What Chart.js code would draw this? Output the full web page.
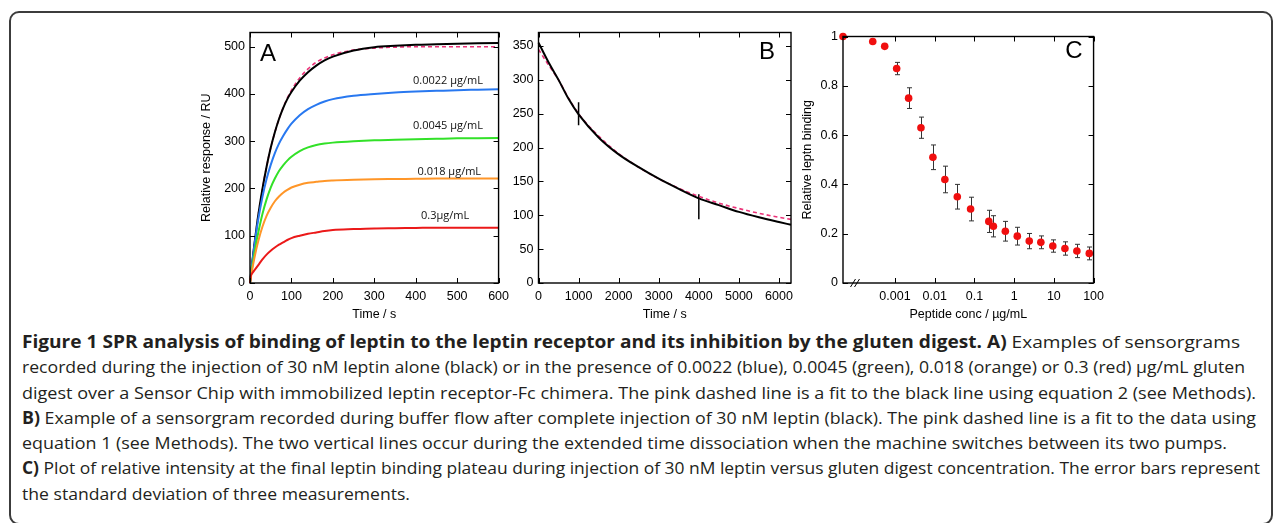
<!DOCTYPE html>
<html>
<head>
<meta charset="utf-8">
<script src="https://cdn.jsdelivr.net/npm/chart.js@4.4.1/dist/chart.umd.min.js"></script>
<style>
  body { margin: 0; background: #fff; width: 1282px; height: 523px; overflow: hidden; position: relative; }
  #frame { position: absolute; left: 9px; top: 11px; width: 1264px; height: 514px; border: 2px solid #3c3c3c; border-radius: 10px; box-sizing: border-box; }
  canvas { position: absolute; }
  #caption { position: absolute; left: 22px; top: 329px; font-family: "Open Sans", sans-serif; font-size: 17px; line-height: 25.3px; color: #231f20; white-space: nowrap; }
  #caption div { height: 25.3px; }
  #caption span.line { display: inline-block; transform-origin: 0 0; }
  #caption b { font-weight: 700; }
</style>
</head>
<body>
<div id="frame"></div>
<canvas id="chartA" width="320" height="306" style="left:195px;top:20px"></canvas>
<canvas id="chartB" width="290" height="306" style="left:510px;top:20px"></canvas>
<canvas id="chartC" width="314" height="302" style="left:796px;top:24px"></canvas>
<div id="caption">
  <div><span class="line" data-right="1240"><b>Figure 1 SPR analysis of binding of leptin to the leptin receptor and its inhibition by the gluten digest. A)</b> Examples of sensorgrams</span></div>
  <div><span class="line" data-right="1245">recorded during the injection of 30 nM leptin alone (black) or in the presence of 0.0022 (blue), 0.0045 (green), 0.018 (orange) or 0.3 (red) µg/mL gluten</span></div>
  <div><span class="line" data-right="1256">digest over a Sensor Chip with immobilized leptin receptor-Fc chimera. The pink dashed line is a fit to the black line using equation 2 (see Methods).</span></div>
  <div><span class="line" data-right="1256"><b>B)</b> Example of a sensorgram recorded during buffer flow after complete injection of 30 nM leptin (black). The pink dashed line is a fit to the data using</span></div>
  <div><span class="line" data-right="1227">equation 1 (see Methods). The two vertical lines occur during the extended time dissociation when the machine switches between its two pumps.</span></div>
  <div><span class="line" data-right="1260"><b>C)</b> Plot of relative intensity at the final leptin binding plateau during injection of 30 nM leptin versus gluten digest concentration. The error bars represent</span></div>
  <div><span class="line" data-right="410">the standard deviation of three measurements.</span></div>
</div>
<script>
// ---- panel A: association sensorgrams (RU vs s)
const timeA = [0, 2, 5, 10, 15, 20, 30, 40, 50, 60, 70, 80, 90, 100, 120, 140, 160, 180, 200, 250, 300, 350, 400, 450, 500, 550, 600];
const leptinAlone = [0, 16, 40, 78, 112, 144, 199, 246, 286, 319, 347, 370, 389, 404, 428, 446, 460, 471, 479, 492, 499, 502, 504, 505, 506, 507, 508];
const fitA = [0, 17, 40, 78, 112, 144, 199, 246, 286, 319, 347, 371, 391, 408, 434, 453, 467, 476, 483, 493, 497, 499, 500, 500, 500, 500, 500];
const conc0022 = [0, 16, 40, 76, 107, 135, 182, 220, 250, 275, 295, 311, 325, 337, 355, 368, 377, 384, 389, 396, 400, 403, 405, 406.5, 408, 409, 410];
const conc0045 = [0, 13, 32, 60, 85, 107, 146, 177, 202, 221, 237, 249, 259, 267, 279, 287, 292, 295, 297, 300, 302, 303, 304, 305, 306, 306.5, 307];
const conc018 = [0, 11, 27, 50, 71, 89, 119, 142, 159, 173, 183, 191, 197, 202, 208, 212, 214, 216, 217, 218.5, 219.5, 220, 220.5, 221, 221, 221, 221];
const conc03 = [0, 15, 20, 26, 32, 38, 50, 60, 68, 75, 81, 86, 91, 95, 100, 104, 107, 110, 112, 114, 115.5, 116, 116.5, 117, 117, 117, 117];
const labelsA = ['0.0022 µg/mL', '0.0045 µg/mL', '0.018 µg/mL', '0.3µg/mL'];
const ticksAx = [0, 100, 200, 300, 400, 500, 600];
const ticksAy = [0, 100, 200, 300, 400, 500];

// ---- panel B: dissociation (RU vs s)
const timeB = [0, 250, 500, 750, 1000, 1500, 2000, 2500, 3000, 3500, 4000, 4500, 5000, 5500, 6000, 6300];
const dissociation = [355, 326, 300, 272, 249, 215, 190, 171, 154, 139, 125, 115, 105, 97, 90, 86];
const fitB = [345, 322, 300, 273, 250, 217, 191, 171, 154, 140, 128, 118, 110, 103, 97, 94];
const pumpSwitchTimes = [1000, 4000];
const pumpSwitchLow = [233, 94];
const pumpSwitchHigh = [267, 131];
const ticksBx = [0, 1000, 2000, 3000, 4000, 5000, 6000];
const ticksBy = [0, 50, 100, 150, 200, 250, 300, 350];

// ---- panel C: relative binding vs peptide conc (0 = no peptide, drawn at the axis break)
const peptideConc = [0, 0.000275, 0.00055, 0.0011, 0.0022, 0.0045, 0.009, 0.018, 0.037, 0.08, 0.23, 0.3, 0.6, 1.2, 2.4, 4.7, 9.4, 19, 38, 78];
const relBinding = [1.0, 0.98, 0.96, 0.87, 0.75, 0.63, 0.51, 0.42, 0.35, 0.30, 0.25, 0.23, 0.21, 0.19, 0.17, 0.165, 0.15, 0.14, 0.13, 0.12];
const bindingSD = [0, 0, 0, 0.025, 0.042, 0.043, 0.05, 0.054, 0.05, 0.048, 0.045, 0.043, 0.04, 0.036, 0.031, 0.026, 0.025, 0.027, 0.027, 0.026];
const concTicks = [0.001, 0.01, 0.1, 1, 10, 100];
const ticksCy = [0, 0.2, 0.4, 0.6, 0.8, 1];

const tickFont = { family: '"Liberation Sans", Arial, sans-serif', size: 12.5 };
const titleFont = { family: '"Liberation Sans", Arial, sans-serif', size: 12.5 };

function pts(xs, ys) {
    return xs.map((x, i) => ({ x: x, y: ys[i] }));
}

function curve(xs, ys, color, dashed) {
    return {
        data: pts(xs, ys),
        borderColor: color,
        borderWidth: dashed ? 1.6 : 2,
        borderDash: dashed ? [4, 3] : [],
        cubicInterpolationMode: 'monotone',
        pointRadius: 0,
        clip: false
    };
}

// box round the plot area with inward ticks on all four sides, plus panel letter
const boxPlugin = {
    id: 'box',
    afterDraw(chart) {
        const { ctx, chartArea: a, scales } = chart;
        const L = 5;
        ctx.save();
        ctx.strokeStyle = '#000';
        ctx.lineWidth = 1.4;
        ctx.strokeRect(a.left, a.top, a.right - a.left, a.bottom - a.top);
        ctx.lineWidth = 1;
        ctx.beginPath();
        scales.x.ticks.forEach((t, i) => {
            const px = Math.round(scales.x.getPixelForTick(i)) + 0.5;
            ctx.moveTo(px, a.bottom); ctx.lineTo(px, a.bottom - L);
            ctx.moveTo(px, a.top); ctx.lineTo(px, a.top + L);
        });
        scales.y.ticks.forEach((t, i) => {
            const py = Math.round(scales.y.getPixelForTick(i)) + 0.5;
            ctx.moveTo(a.left, py); ctx.lineTo(a.left + L, py);
            ctx.moveTo(a.right, py); ctx.lineTo(a.right - L, py);
        });
        ctx.stroke();
        const opts = chart.options.plugins.box;
        ctx.fillStyle = '#000';
        ctx.font = '24px "Liberation Sans", Arial, sans-serif';
        ctx.textBaseline = 'middle';
        if (opts.letterLeft) {
            ctx.textAlign = 'left';
            ctx.fillText(opts.letter, a.left + opts.dx, a.top + opts.dy);
        } else {
            ctx.textAlign = 'right';
            ctx.fillText(opts.letter, a.right - opts.dx, a.top + opts.dy);
        }
        ctx.restore();
    }
};

function linAxis(min, max, tickList, title, fixed, horizontal) {
    return {
        type: 'linear',
        min: min,
        max: max,
        grid: { display: false, drawTicks: false },
        border: { display: false },
        afterBuildTicks: s => { s.ticks = tickList.map(v => ({ value: v })); },
        ticks: { font: tickFont, color: '#000', padding: horizontal ? 6 : 5, maxRotation: 0, autoSkip: false, callback: v => String(v) },
        title: { display: !!title, text: title, font: titleFont, color: '#000', padding: 4 },
        afterFit: s => { if (horizontal) s.height = fixed; else s.width = fixed; }
    };
}

// ---- chart A
new Chart(document.getElementById('chartA'), {
    type: 'line',
    data: {
        datasets: [
            curve(timeA, conc03, 'rgb(235,25,25)'),
            curve(timeA, conc018, 'rgb(255,150,40)'),
            curve(timeA, conc0045, 'rgb(50,225,40)'),
            curve(timeA, conc0022, 'rgb(40,120,240)'),
            curve(timeA, leptinAlone, '#000'),
            curve(timeA, fitA, 'rgb(235,50,120)', true)
        ]
    },
    options: {
        responsive: false,
        animation: false,
        layout: { padding: { top: 10, right: 12 } },
        plugins: {
            legend: { display: false },
            tooltip: { enabled: false },
            box: { letter: 'A', letterLeft: true, dx: 10, dy: 22 }
        },
        scales: {
            x: linAxis(0, 600, ticksAx, 'Time / s', 43, true),
            y: linAxis(0, 530, ticksAy, 'Relative response / RU', 55, false)
        }
    },
    plugins: [boxPlugin, {
        id: 'concLabels',
        afterDatasetsDraw(chart) {
            const { ctx, scales: { x, y } } = chart;
            const spots = [[478, 427], [478, 332], [481, 236], [471, 142]];
            ctx.save();
            ctx.font = '11px "Open Sans", sans-serif';
            ctx.fillStyle = '#111';
            ctx.textAlign = 'center';
            ctx.textBaseline = 'middle';
            labelsA.forEach((txt, i) => {
                ctx.fillText(txt, x.getPixelForValue(spots[i][0]), y.getPixelForValue(spots[i][1]));
            });
            ctx.restore();
        }
    }]
});

// ---- chart B
const switchSets = pumpSwitchTimes.map((t, i) => ({
    data: [{ x: t, y: pumpSwitchLow[i] }, { x: t, y: pumpSwitchHigh[i] }],
    borderColor: '#000',
    borderWidth: 1.5,
    pointRadius: 0
}));
new Chart(document.getElementById('chartB'), {
    type: 'line',
    data: {
        datasets: [
            curve(timeB, dissociation, '#000'),
            curve(timeB, fitB, 'rgb(235,50,120)', true)
        ].concat(switchSets)
    },
    options: {
        responsive: false,
        animation: false,
        layout: { padding: { top: 10, right: 9 } },
        plugins: {
            legend: { display: false },
            tooltip: { enabled: false },
            box: { letter: 'B', letterLeft: false, dx: 16, dy: 20 }
        },
        scales: {
            x: linAxis(0, 6300, ticksBx, 'Time / s', 43, true),
            y: linAxis(0, 370, ticksBy, '', 28.5, false)
        }
    },
    plugins: [boxPlugin]
});

// ---- chart C
const cMin = 4.9e-5;
new Chart(document.getElementById('chartC'), {
    type: 'scatter',
    data: {
        datasets: [{
            data: peptideConc.map((c, i) => ({ x: c === 0 ? cMin : c, y: relBinding[i] })),
            backgroundColor: 'rgb(240,15,15)',
            borderWidth: 0,
            pointRadius: 3.8,
            clip: false
        }]
    },
    options: {
        responsive: false,
        animation: false,
        layout: { padding: { top: 10.5, right: 14.5 } },
        plugins: {
            legend: { display: false },
            tooltip: { enabled: false },
            box: { letter: 'C', letterLeft: false, dx: 11, dy: 15 }
        },
        scales: {
            x: {
                type: 'logarithmic',
                min: cMin,
                max: 100,
                grid: { display: false, drawTicks: false },
                border: { display: false },
                afterBuildTicks: s => { s.ticks = concTicks.map(v => ({ value: v })); },
                ticks: { font: tickFont, color: '#000', padding: 6, maxRotation: 0, autoSkip: false, callback: v => String(v) },
                title: { display: true, text: 'Peptide conc / µg/mL', font: titleFont, color: '#000', padding: 4 },
                afterFit: s => { s.height = 43; }
            },
            y: linAxis(0, 1, ticksCy, 'Relative leptn binding', 47, false)
        }
    },
    plugins: [boxPlugin, {
        id: 'errorBars',
        beforeDatasetsDraw(chart) {
            const { ctx, scales: { x, y } } = chart;
            ctx.save();
            ctx.strokeStyle = '#333';
            ctx.lineWidth = 1;
            ctx.beginPath();
            peptideConc.forEach((c, i) => {
                if (!bindingSD[i]) return;
                const px = Math.round(x.getPixelForValue(c)) + 0.5;
                const hi = y.getPixelForValue(relBinding[i] + bindingSD[i]);
                const lo = y.getPixelForValue(relBinding[i] - bindingSD[i]);
                ctx.moveTo(px, hi); ctx.lineTo(px, lo);
                ctx.moveTo(px - 2.5, hi); ctx.lineTo(px + 2.5, hi);
                ctx.moveTo(px - 2.5, lo); ctx.lineTo(px + 2.5, lo);
            });
            ctx.stroke();
            ctx.restore();
        },
        afterDraw(chart) {
            // axis break mark near the zero point
            const { ctx, chartArea: a } = chart;
            const bx = a.left + 12;
            ctx.save();
            ctx.strokeStyle = '#000';
            ctx.lineWidth = 1;
            ctx.beginPath();
            [-2, 2].forEach(d => {
                ctx.moveTo(bx + d - 2.5, a.bottom + 4);
                ctx.lineTo(bx + d + 2.5, a.bottom - 4);
            });
            ctx.stroke();
            ctx.restore();
        }
    }]
});

// stretch each caption line to the width it has in the printed figure
function fitCaption() {
    document.querySelectorAll('#caption span.line').forEach(el => {
        el.style.transform = 'none';
        const w = el.getBoundingClientRect().width;
        const target = Number(el.dataset.right) - 22;
        el.style.transform = 'scaleX(' + (target / w) + ')';
    });
}
fitCaption();
if (document.fonts && document.fonts.ready) document.fonts.ready.then(fitCaption);
</script>
</body>
</html>
